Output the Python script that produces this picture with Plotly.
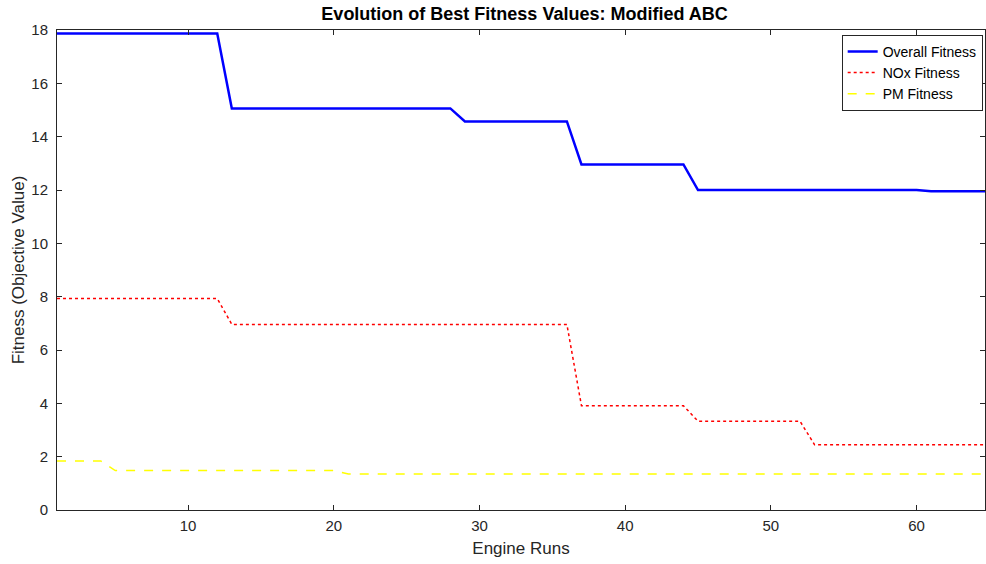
import plotly.graph_objects as go

# Engine run index
runs = list(range(1, 66))

# Best fitness per run for each objective
overall_fitness = [17.87] * 12 + [15.06] * 16 + [14.57] * 8 + [12.96] * 8 + [12.0] * 16 + [11.95] * 5
nox_fitness = [7.93] * 12 + [6.96] * 24 + [3.91] * 8 + [3.33] * 8 + [2.45] * 13
pm_fitness = [1.84] * 4 + [1.48] * 16 + [1.35] * 45

x_ticks = [10, 20, 30, 40, 50, 60]
y_ticks = [0, 2, 4, 6, 8, 10, 12, 14, 16, 18]

font_family = "Liberation Sans, Arial, sans-serif"
ink = "#262626"

fig = go.Figure()
fig.add_trace(go.Scatter(x=runs, y=overall_fitness, mode="lines", name="Overall Fitness",
                         line=dict(color="#0000ff", width=2.5)))
fig.add_trace(go.Scatter(x=runs, y=nox_fitness, mode="lines", name="NOx Fitness",
                         line=dict(color="#ff0000", width=1.5, dash="dot")))
fig.add_trace(go.Scatter(x=runs, y=pm_fitness, mode="lines", name="PM Fitness",
                         line=dict(color="#ffff00", width=1.5, dash="dash")))

axis_common = dict(showline=True, linecolor=ink, linewidth=1, mirror="ticks",
                   ticks="inside", ticklen=5, tickcolor=ink, showgrid=False, zeroline=False,
                   tickfont=dict(family=font_family, size=15, color=ink))

fig.update_layout(
    width=986, height=564,
    margin=dict(l=57, r=1, t=30, b=54),
    plot_bgcolor="white", paper_bgcolor="white",
    title=dict(text="<b>Evolution of Best Fitness Values: Modified ABC</b>",
               x=0.532, xanchor="center", y=0.976, yanchor="middle",
               font=dict(family=font_family, size=18, color="black")),
    xaxis=dict(range=[1, 64.7], tickvals=x_ticks, ticklabelstandoff=2,
               title=dict(text="Engine Runs", standoff=9,
                          font=dict(family=font_family, size=17, color=ink)),
               **axis_common),
    yaxis=dict(range=[0, 18], tickvals=y_ticks, ticklabelstandoff=5,
               title=dict(text="Fitness (Objective Value)", standoff=2,
                          font=dict(family=font_family, size=17, color=ink)),
               **axis_common),
    legend=dict(x=0.9975, xanchor="right", y=0.99, yanchor="top",
                bgcolor="white", bordercolor=ink, borderwidth=1,
                font=dict(family=font_family, size=14, color="black"),
                itemwidth=30, tracegroupgap=0),
    showlegend=True,
)

fig.write_html("out.html")
